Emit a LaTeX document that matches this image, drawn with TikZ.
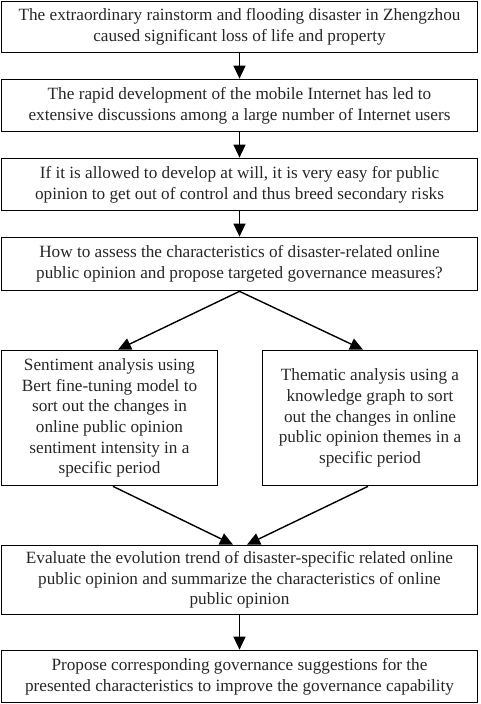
\documentclass[tikz,border=0pt]{standalone}
\usepackage{fontspec}
\setmainfont{Liberation Serif}
\usetikzlibrary{positioning,arrows.meta}

\begin{document}
\begin{tikzpicture}[x=1pt,y=-1pt,
        box/.style={draw, line width=1.7pt, align=center, inner sep=0pt,
            text=black!85, font=\fontsize{17.2}{20.7}\selectfont},
        arr/.style={line width=1.4pt, -{Triangle[width=12pt,length=13pt]}}]
            \useasboundingbox (0,0) rectangle (480,704);
            \node[box, minimum width=476pt, minimum height=51pt] (A) at (239.5, 27) {The extraordinary rainstorm and flooding disaster in Zhengzhou\\caused significant loss of life and property};
            \node[box, minimum width=476pt, minimum height=52pt] (B) at (239.5, 105.5) {The rapid development of the mobile Internet has led to\\extensive discussions among a large number of Internet users};
            \node[box, minimum width=476pt, minimum height=52pt] (C) at (239.5, 184.5) {If it is allowed to develop at will, it is very easy for public\\opinion to get out of control and thus breed secondary risks};
            \node[box, minimum width=476pt, minimum height=53pt] (D) at (239.5, 264) {How to assess the characteristics of disaster-related online\\public opinion and propose targeted governance measures?};
            \node[box, minimum width=216pt, minimum height=135pt] (E) at (109.5, 418) {Sentiment analysis using\\Bert fine-tuning model to\\sort out the changes in\\online public opinion\\sentiment intensity in a\\specific period};
            \node[box, minimum width=215pt, minimum height=135pt] (F) at (370, 418) {Thematic analysis using a\\knowledge graph to sort\\out the changes in online\\public opinion themes in a\\specific period};
            \node[box, minimum width=476pt, minimum height=69pt] (G) at (239.5, 580) {Evaluate the evolution trend of disaster-specific related online\\public opinion and summarize the characteristics of online\\public opinion};
            \node[box, minimum width=476pt, minimum height=52pt] (H) at (239.5, 676.5) {Propose corresponding governance suggestions for the\\presented characteristics to improve the governance capability};
        
            \draw[arr] (A) -- (B);
            \draw[arr] (B) -- (C);
            \draw[arr] (C) -- (D);
            \draw[arr] (D.south) -- (E.north -| 118,0);
            \draw[arr] (D.south) -- (F.north -| 363,0);
            \draw[arr] (E.south -| 113,0) -- (G.north -| 233,0);
            \draw[arr] (F.south -| 368,0) -- (G.north -| 247,0);
            \draw[arr] (G) -- (H);
        \end{tikzpicture}
\end{document}
